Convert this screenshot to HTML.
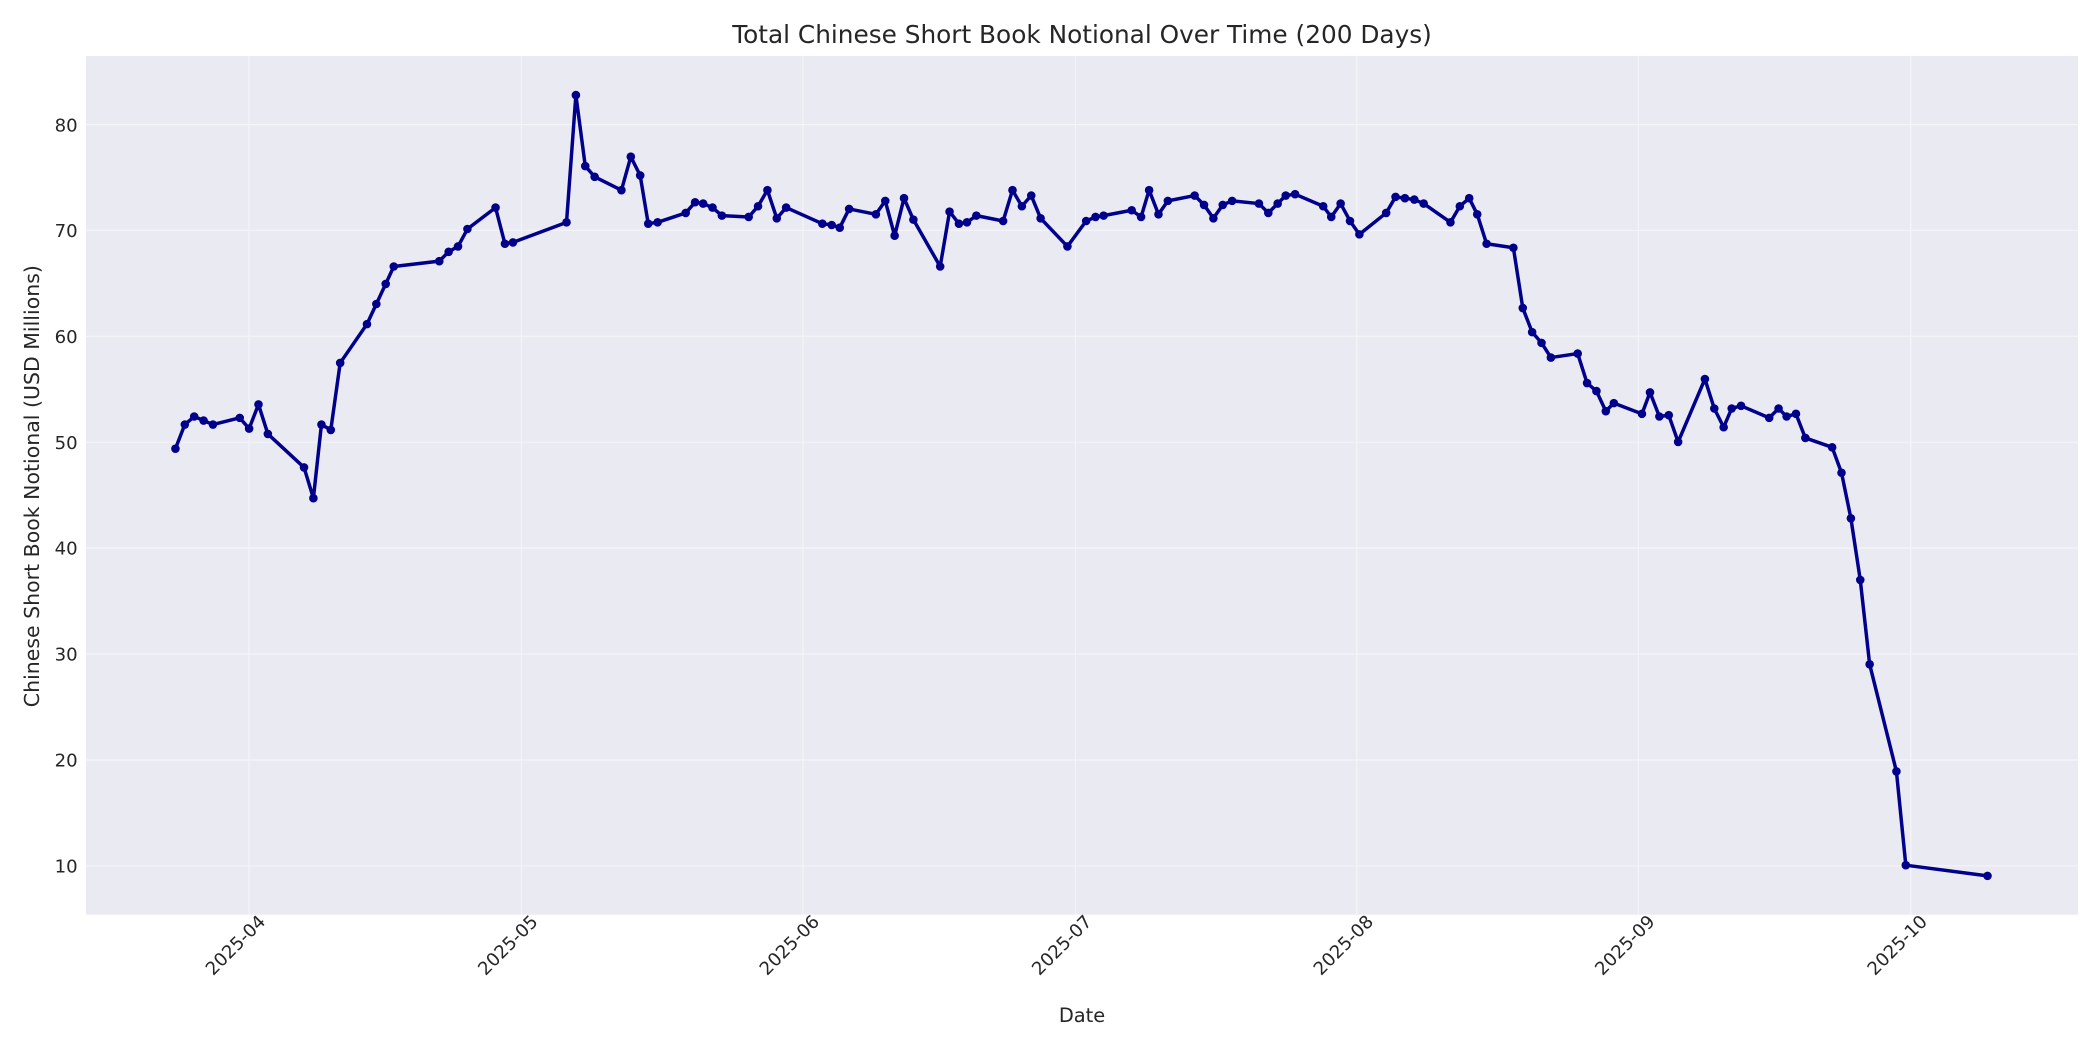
<!DOCTYPE html>
<html><head><meta charset="utf-8"><style>html,body{margin:0;padding:0;background:#fff}svg{display:block}</style></head>
<body>
<svg width="2100" height="1050" viewBox="0 0 1568 784" xmlns="http://www.w3.org/2000/svg" font-family="'DejaVu Sans', 'Liberation Sans', sans-serif">
<rect x="0" y="0" width="1568" height="784" fill="#fff"/>
<rect x="64.2" y="41.8" width="1487.4" height="641.2" fill="#eaeaf2"/>
<g stroke="#ffffff" stroke-width="0.8" opacity="0.55">
<line x1="64.2" x2="1551.6" y1="646.5" y2="646.5"/>
<line x1="64.2" x2="1551.6" y1="567.4" y2="567.4"/>
<line x1="64.2" x2="1551.6" y1="488.3" y2="488.3"/>
<line x1="64.2" x2="1551.6" y1="409.2" y2="409.2"/>
<line x1="64.2" x2="1551.6" y1="330.2" y2="330.2"/>
<line x1="64.2" x2="1551.6" y1="251.1" y2="251.1"/>
<line x1="64.2" x2="1551.6" y1="172.0" y2="172.0"/>
<line x1="64.2" x2="1551.6" y1="93" y2="93"/>
<line y1="41.8" y2="683" x1="185.9" x2="185.9"/>
<line y1="41.8" y2="683" x1="389.3" x2="389.3"/>
<line y1="41.8" y2="683" x1="599.5" x2="599.5"/>
<line y1="41.8" y2="683" x1="802.9" x2="802.9"/>
<line y1="41.8" y2="683" x1="1013.1" x2="1013.1"/>
<line y1="41.8" y2="683" x1="1223.3" x2="1223.3"/>
<line y1="41.8" y2="683" x1="1426.7" x2="1426.7"/>
</g>
<g font-size="13.5" fill="#262626" text-anchor="end">
<text x="58" y="651.5">10</text>
<text x="58" y="572.4">20</text>
<text x="58" y="493.3">30</text>
<text x="58" y="414.2">40</text>
<text x="58" y="335.2">50</text>
<text x="58" y="256.1">60</text>
<text x="58" y="177.0">70</text>
<text x="58" y="98">80</text>
</g>
<g font-size="13.5" fill="#262626" text-anchor="end">
<text transform="translate(199,689) rotate(-45)">2025-04</text>
<text transform="translate(402.4,689) rotate(-45)">2025-05</text>
<text transform="translate(612.6,689) rotate(-45)">2025-06</text>
<text transform="translate(816,689) rotate(-45)">2025-07</text>
<text transform="translate(1026.2,689) rotate(-45)">2025-08</text>
<text transform="translate(1236.4,689) rotate(-45)">2025-09</text>
<text transform="translate(1439.8,689) rotate(-45)">2025-10</text>
</g>
<text x="807.9" y="763" font-size="14.5" fill="#262626" text-anchor="middle">Date</text>
<text transform="translate(29,363) rotate(-90)" font-size="15.3" fill="#262626" text-anchor="middle">Chinese Short Book Notional (USD Millions)</text>
<text x="807.9" y="32" font-size="18.5" fill="#262626" text-anchor="middle">Total Chinese Short Book Notional Over Time (200 Days)</text>
<polyline id="ln" fill="none" stroke="#00008b" stroke-width="2.6" stroke-linejoin="round" points="131,335 138,317 145,311 152,314 159,317 179,312 186,320 193,302 200,324 227,349 234,372 240,317 247,321 254,271 274,242 281,227 288,212 294,199 328,195 335,188 342,184 349,171 370,155 377,182 383,181 423,166 430,71 437,124 444,132 464,142 471,117 478,131 484,167 491,166 512,159 519,151 525,152 532,155 539,161 559,162 566,154 573,142 580,163 587,155 614,167 621,168 627,170 634,156 654,160 661,150 668,176 675,148 682,164 702,199 709,158 716,167 722,166 729,161 749,165 756,142 763,154 770,146 777,163 797,184 811,165 818,162 824,161 845,157 852,162 858,142 865,160 872,150 892,146 899,153 906,163 913,153 920,150 940,152 947,159 954,152 960,146 967,145 988,154 994,162 1001,152 1008,165 1015,175 1035,159 1042,147 1049,148 1056,149 1063,152 1083,166 1090,154 1097,148 1103,160 1110,182 1130,185 1137,230 1144,248 1151,256 1158,267 1178,264 1185,286 1192,292 1199,307 1205,301 1226,309 1232,293 1239,311 1246,310 1253,330 1273,283 1280,305 1287,319 1293,305 1300,303 1321,312 1328,305 1334,311 1341,309 1348,327 1368,334 1375,353 1382,387 1389,433 1396,496 1416,576 1423,646 1484,654"/>
<g id="mk" fill="#00008b"></g>
<script>
var pts=document.getElementById('ln').getAttribute('points').trim().split(/\s+/);
var g=document.getElementById('mk');
pts.forEach(function(p){var a=p.split(',');var c=document.createElementNS('http://www.w3.org/2000/svg','circle');c.setAttribute('cx',a[0]);c.setAttribute('cy',a[1]);c.setAttribute('r','3.2');g.appendChild(c);});
</script>
</svg>
</body></html>
